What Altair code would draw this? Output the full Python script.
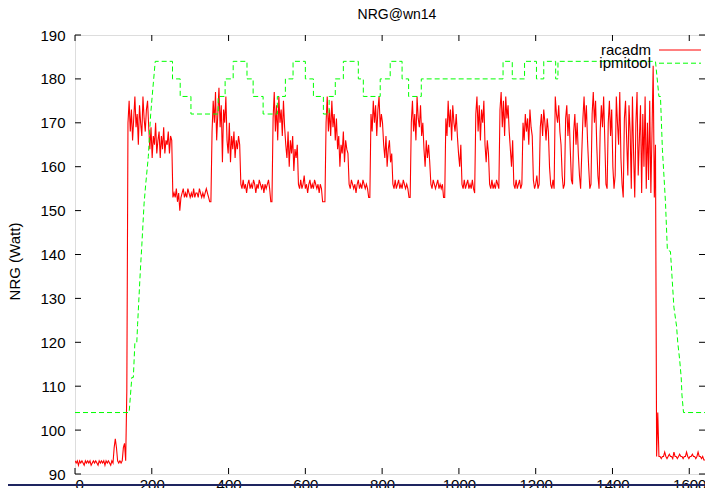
import altair as alt
import pandas as pd

# ---------------- data ----------------
# racadm power readings, one sample every 3 seconds starting at t = 0
racadm_dt = 3
racadm_idle = [93, 92.5, 93, 92, 93, 92.5, 93, 92.5, 92, 93,
               92.5, 93, 92.5, 93, 92, 92.5, 93, 92.5, 93, 92.5,
               92, 93, 92.5, 93, 92.5, 93, 92, 93, 92.5, 93,
               92.5, 92, 93, 92.5,
               96, 98, 96, 93, 92.5, 93, 92.5, 93, 96, 97, 93, 109]
racadm_c1 = [170, 175, 168, 173, 166, 171, 176, 169, 172, 165, 174, 170, 167, 176, 171, 168, 173, 175, 169,
             164, 169, 162, 167, 165, 170, 163, 166, 168, 162, 167, 164, 169, 163, 166, 165, 168, 163, 167, 166,
             153, 154, 153, 155, 152, 154, 150, 153, 154, 155, 153, 154, 153, 155, 154, 153, 154, 153, 155, 153,
             154, 154, 153, 155, 154, 153, 154, 153, 154, 155, 154, 153, 152, 152]
racadm_c2 = [168, 175, 170, 177, 166, 172, 178, 169, 174, 161, 173, 170, 176,
             166, 163, 170, 161, 167, 164, 168, 162, 166, 164, 167, 165,
             156, 155, 157, 155, 156, 154, 156, 157, 155, 156, 155, 157, 156, 154, 156, 155, 157, 156, 155, 156,
             154, 156, 155, 156, 157, 155, 152, 152]
racadm_c3 = [171, 177, 168, 174, 166, 176, 170, 173, 167, 175, 169,
             165, 162, 168, 160, 166, 163, 167, 159, 164, 162, 165,
             156, 155, 157, 155, 156, 158, 155, 156, 154, 156, 157, 155, 156, 155, 157, 156, 155, 156, 154, 156,
             155, 152, 152, 152]
racadm_c4 = [170, 176, 168, 173, 167, 175, 169, 172, 166, 171,
             164, 167, 160, 165, 163, 168, 161, 166, 164, 163,
             156, 155, 157, 156, 155, 156, 154, 156, 157, 155, 156, 155, 157, 156, 155, 156, 155, 153, 153]
racadm_c5 = [172, 168, 175, 170, 174, 167, 173, 176, 169, 172, 170,
             165, 162, 167, 160, 164, 166, 161, 163,
             156, 155, 157, 155, 156, 157, 155, 156, 155, 157, 156, 155, 156, 155, 153, 153]
racadm_c6 = [170, 175, 168, 172, 166, 176, 171, 169, 174, 167, 170,
             164, 160, 166, 162, 165, 161,
             156, 155, 157, 156, 155, 156, 157, 155, 156, 155, 156, 153, 153]
racadm_c7 = [171, 167, 175, 169, 173, 166, 174, 170, 168, 172, 167,
             163, 160, 165,
             156, 155, 157, 155, 156, 157, 155, 156, 155, 157, 155, 154]
racadm_c8 = [172, 176, 168, 174, 166, 173, 170, 175,
             165, 161, 166, 163,
             156, 155, 157, 155, 156, 155, 157, 156, 155]
racadm_c9 = [173, 177, 169, 175, 167, 176, 171, 174, 168,
             164, 160, 166,
             156, 155, 157, 155, 156, 157, 155, 156]
racadm_c10 = [170, 166, 172, 168, 171, 165, 173, 169, 167,
              157, 155, 156, 158, 155, 156]
racadm_c11 = [169, 172, 167, 173, 170, 166, 171, 168,
              160, 156, 155, 157, 155]
racadm_fast = [176, 172, 170, 174, 168, 165, 158, 155,
               156, 171, 174, 167, 172, 164, 157, 156,
               168, 172, 165, 170, 163, 158, 155, 163,
               171, 176, 169, 174, 166, 160, 155, 156,
               172, 177, 170, 175, 165, 158, 155, 168,
               174, 169, 176, 166, 156, 155, 170, 175,
               167, 173, 160, 155, 158, 176, 170, 165,
               177, 162, 156, 153, 171, 175, 166, 158,
               174, 168, 155, 176, 163, 153, 170, 177,
               158, 166, 174, 154, 172, 160, 176, 155,
               170, 157, 175, 154, 168, 183, 153]
racadm_tail = [165, 94, 104, 94,
               94, 93.5, 94, 94, 95, 94, 93.5, 94, 94.5, 94,
               94, 93.5, 95, 94, 94, 93.5, 94, 94.5, 94, 94,
               93.5, 94, 94, 95, 94, 93.5, 94, 94, 94.5, 94,
               94, 93.5, 94, 95, 94, 94, 93.5, 94,
               93.2, 93.2, 93.2, 93.2, 93.2, 93.2, 93.2, 93.2, 93.2]

# ipmitool readings (vertices of the stepped trace)
ipmi_t = [0, 141, 148, 152, 156, 161, 163, 170, 174, 180, 184, 191, 197, 201, 209,
          254, 254, 274, 274, 302, 302, 373, 373, 391, 391, 412, 412, 448, 448, 464, 464,
          490, 490, 527, 527, 548, 548, 568, 568, 600, 600, 621, 621, 647, 647, 662, 662,
          678, 678, 699, 699, 738, 738, 751, 751, 795, 795, 821, 821, 852, 852, 869, 869,
          902, 902, 1115, 1115, 1139, 1139, 1171, 1171, 1202, 1202, 1221, 1221, 1252, 1252,
          1258, 1258, 1512, 1521, 1525, 1530, 1538, 1543, 1551, 1560, 1567, 1570, 1575,
          1579, 1581, 1585, 1641]
ipmi_w = [104, 104, 112, 112, 120, 120, 124, 136, 142, 151.7, 155.8, 162.3, 171.8, 176, 184,
          184, 180, 180, 176, 176, 172, 172, 176, 176, 180, 180, 184, 184, 180, 180, 176,
          176, 172, 172, 176, 176, 180, 180, 184, 184, 180, 180, 176, 176, 172, 172, 176,
          176, 180, 180, 184, 184, 180, 180, 176, 176, 180, 180, 184, 184, 180, 180, 176,
          176, 180, 180, 184, 184, 180, 180, 184, 184, 180, 180, 184, 184, 180,
          180, 184, 184, 176, 176, 164, 152, 141, 140.7, 128, 123.6, 120, 116,
          112, 108, 104, 104]

series_names = ["racadm", "ipmitool"]
series_colors = ["#ff0000", "#00ff00"]
x_ticks = [0, 200, 400, 600, 800, 1000, 1200, 1400, 1600]
y_ticks = [90, 100, 110, 120, 130, 140, 150, 160, 170, 180, 190]
x_max = 1641

# ---------------- tables ----------------
racadm = (racadm_idle + racadm_c1 + racadm_c2 + racadm_c3 + racadm_c4 + racadm_c5 +
          racadm_c6 + racadm_c7 + racadm_c8 + racadm_c9 + racadm_c10 + racadm_c11 +
          racadm_fast + racadm_tail)
df_r = pd.DataFrame({"t": [racadm_dt * i for i in range(len(racadm))], "w": racadm})
df_r["series"] = "racadm"
df_r["idx"] = range(len(df_r))
df_i = pd.DataFrame({"t": ipmi_t, "w": ipmi_w})
df_i["series"] = "ipmitool"
df_i["idx"] = range(len(df_i))

W, H = 630, 439
FONT = "Liberation Sans"

x_enc = alt.X("t:Q", scale=alt.Scale(domain=[0, x_max], nice=False, zero=False),
              axis=alt.Axis(values=x_ticks, format="d", title=None, ticks=False, domain=False,
                            grid=False, labelFontSize=15, labelPadding=3, labelColor="black",
                            labelFont=FONT))
y_enc = alt.Y("w:Q", scale=alt.Scale(domain=[90, 190], nice=False, zero=False),
              axis=alt.Axis(values=y_ticks, title="NRG (Watt)", ticks=False, domain=False, grid=False,
                            labelFontSize=15, labelPadding=10, labelColor="black", labelFont=FONT,
                            titleFontSize=15, titleFont=FONT, titleFontWeight="normal",
                            titleColor="black", titleAngle=270, titleX=-56, titleY=226,
                            titleAlign="center", titleBaseline="alphabetic"))

color = alt.Color("series:N", scale=alt.Scale(domain=series_names, range=series_colors), legend=None)
dash = alt.StrokeDash("series:N", scale=alt.Scale(domain=series_names, range=[[1, 0], [5, 3]]),
                      legend=None)

red = alt.Chart(df_r).mark_line(strokeWidth=1.1, clip=True).encode(
    x=x_enc, y=y_enc, color=color, strokeDash=dash, order="idx:Q")
green = alt.Chart(df_i).mark_line(strokeWidth=1, clip=True).encode(
    x=x_enc, y=y_enc, color=color, strokeDash=dash, order="idx:Q")

xt = pd.DataFrame({"t": x_ticks})
yt = pd.DataFrame({"w": y_ticks})
tick_b = alt.Chart(xt).mark_rule(color="black", strokeWidth=1).encode(
    x=x_enc, y=alt.value(H), y2=alt.value(H - 6))
tick_t = alt.Chart(xt).mark_rule(color="black", strokeWidth=1).encode(
    x=x_enc, y=alt.value(0), y2=alt.value(6))
tick_l = alt.Chart(yt).mark_rule(color="black", strokeWidth=1).encode(
    y=y_enc, x=alt.value(0), x2=alt.value(6))
tick_r = alt.Chart(yt).mark_rule(color="black", strokeWidth=1).encode(
    y=y_enc, x=alt.value(W), x2=alt.value(W - 6))
# dark frame line at the very bottom of the picture
edge = alt.Chart(xt.head(1)).mark_rule(color="#1e2560", strokeWidth=2).encode(
    x=alt.value(-75), x2=alt.value(W + 8), y=alt.value(H + 11))

# key (gnuplot style: label right-aligned, sample line to its right)
key_layers = []
for i, name in enumerate(series_names):
    kd = pd.DataFrame({"series": [name]})
    key_layers.append(alt.Chart(kd).mark_text(align="right", baseline="alphabetic", fontSize=15,
                                              font=FONT, color="black").encode(
        text="series:N", x=alt.value(576), y=alt.value(20.3 + 12.9 * i)))
    key_layers.append(alt.Chart(kd).mark_rule(strokeWidth=1).encode(
        x=alt.value(584), x2=alt.value(626), y=alt.value(15 + 13.2 * i),
        color=color, strokeDash=dash))

chart = alt.layer(red, green, tick_b, tick_t, tick_l, tick_r, edge, *key_layers).properties(
    width=W, height=H,
    title=alt.Title("NRG@wn14", fontSize=14, font=FONT, fontWeight="normal", color="black",
                    offset=6, anchor="middle", dx=7),
    autosize=alt.AutoSizeParams(type="none"),
    padding={"left": 67, "top": 27, "right": 0, "bottom": 30},
    background="white",
).configure_view(stroke="black", strokeWidth=1).configure(font=FONT)

chart.save("out.html", embed_options={"renderer": "svg", "actions": False})
